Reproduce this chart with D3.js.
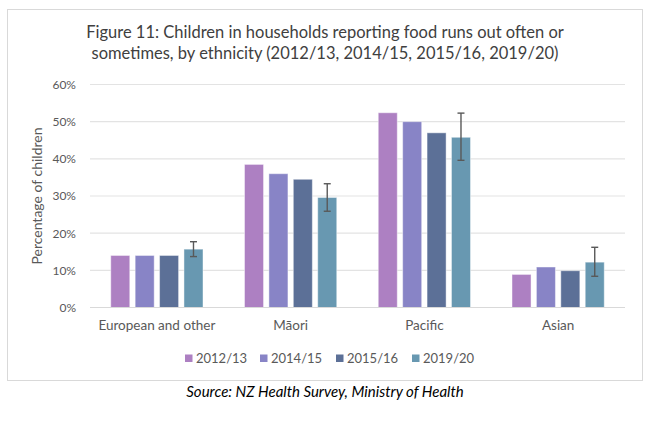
<!DOCTYPE html>
<html lang="en">
<head>
<meta charset="UTF-8">
<style>
  body { margin: 0; background: #fff; }
  text { font-family: Lato, "Open Sans", sans-serif; }
</style>
<script src="https://cdn.jsdelivr.net/npm/d3@7"></script>
</head>
<body>
<div id="chart"></div>
<script>
// data
var groups = ["European and other", "Māori", "Pacific", "Asian"];
var years = ["2012/13", "2014/15", "2015/16", "2019/20"];
var v2012 = [14.0, 38.5, 52.4, 8.9];
var v2014 = [14.0, 36.0, 50.0, 10.9];
var v2015 = [14.0, 34.5, 47.0, 9.9];
var v2019 = [15.7, 29.6, 45.8, 12.2];
// 95% CI for 2019/20 only
var ciLow = [13.7, 25.9, 39.6, 8.4];
var ciHigh = [17.7, 33.3, 52.3, 16.2];
var yTicks = [0, 10, 20, 30, 40, 50, 60];
var colors = ["#ad80c2", "#8884c6", "#5c7097", "#6898b1"];

var W = 658, H = 422;
var pLeft = 90, pRight = 625, pTop = 84.5, pBottom = 307.5;

var svg = d3.select("#chart").append("svg")
  .attr("width", W).attr("height", H);

// outer frame of the chart
svg.append("rect")
  .attr("x", 7.5).attr("y", 9.5).attr("width", 635).attr("height", 371)
  .attr("fill", "#fff").attr("stroke", "#d9d9d9").attr("stroke-width", 1);

svg.append("text").attr("x", 325).attr("y", 38)
  .attr("text-anchor", "middle").attr("font-size", 16.5).attr("fill", "#404040")
  .text("Figure 11: Children in households reporting food runs out often or");
svg.append("text").attr("x", 325).attr("y", 59)
  .attr("text-anchor", "middle").attr("font-size", 16.5).attr("fill", "#404040")
  .text("sometimes, by ethnicity (2012/13, 2014/15, 2015/16, 2019/20)");

var y = d3.scaleLinear().domain([0, 60]).range([pBottom, pTop]);
var x0 = d3.scaleBand().domain(groups).range([pLeft, pRight]);
var x1 = d3.scaleBand().domain(years).range([0, x0.bandwidth()])
  .paddingInner(0.22).paddingOuter(0.85);

// gridlines
svg.append("g").selectAll("line").data(yTicks.slice(1)).join("line")
  .attr("x1", pLeft).attr("x2", pRight)
  .attr("y1", d => y(d)).attr("y2", d => y(d))
  .attr("stroke", "#e3e3e3").attr("stroke-width", 1.2);

var yAxis = svg.append("g").attr("transform", "translate(" + pLeft + ",0)")
  .call(d3.axisLeft(y).tickValues(yTicks).tickSize(0).tickPadding(14)
    .tickFormat(d => d + "%"));
yAxis.select(".domain").remove();
yAxis.selectAll("text").attr("font-size", 12).attr("fill", "#595959")
  .style("font-family", "Lato, sans-serif");

svg.append("text")
  .attr("transform", "translate(42," + ((pTop + pBottom) / 2) + ") rotate(-90)")
  .attr("text-anchor", "middle").attr("font-size", 14).attr("fill", "#595959")
  .text("Percentage of children");

var series = [v2012, v2014, v2015, v2019];
var rows = [];
groups.forEach(function(g, i) {
  years.forEach(function(yr, j) {
    rows.push({ g: g, yr: yr, j: j, v: series[j][i] });
  });
});

svg.append("g").selectAll("rect").data(rows).join("rect")
  .attr("x", d => x0(d.g) + x1(d.yr))
  .attr("y", d => y(d.v))
  .attr("width", x1.bandwidth())
  .attr("height", d => y(0) - y(d.v))
  .attr("fill", d => colors[d.j])
  .attr("stroke", "#ffffff").attr("stroke-opacity", 0.45).attr("stroke-width", 1);

// baseline
svg.append("line").attr("x1", pLeft).attr("x2", pRight)
  .attr("y1", pBottom).attr("y2", pBottom)
  .attr("stroke", "#d9d9d9").attr("stroke-width", 1.2);

// error bars on 2019/20
var eb = svg.append("g").attr("stroke", "#595959").attr("stroke-width", 1.4);
groups.forEach(function(g, i) {
  var cx = x0(g) + x1("2019/20") + x1.bandwidth() / 2;
  eb.append("line").attr("x1", cx).attr("x2", cx)
    .attr("y1", y(ciLow[i])).attr("y2", y(ciHigh[i]));
  [ciLow[i], ciHigh[i]].forEach(function(c) {
    eb.append("line").attr("x1", cx - 3.5).attr("x2", cx + 3.5)
      .attr("y1", y(c)).attr("y2", y(c));
  });
});

var xAxis = svg.append("g").attr("transform", "translate(0," + pBottom + ")")
  .call(d3.axisBottom(x0).tickSize(0).tickPadding(13));
xAxis.select(".domain").remove();
xAxis.selectAll("text").attr("font-size", 13.5).attr("fill", "#595959")
  .style("font-family", "Lato, sans-serif");

// legend
var legX = [185, 260, 336, 412];
var leg = svg.append("g").selectAll("g").data(years).join("g")
  .attr("transform", (d, i) => "translate(" + legX[i] + ",358)");
leg.append("rect").attr("x", 0).attr("y", -3.5).attr("width", 7.5).attr("height", 7.5)
  .attr("fill", (d, i) => colors[i]);
leg.append("text").attr("x", 11).attr("y", 4.5)
  .attr("font-size", 13).attr("fill", "#595959").text(d => d);

svg.append("text").attr("x", 325).attr("y", 397)
  .attr("text-anchor", "middle").attr("font-size", 15).attr("font-style", "italic")
  .attr("fill", "#000").text("Source: NZ Health Survey, Ministry of Health");
</script>
</body>
</html>
